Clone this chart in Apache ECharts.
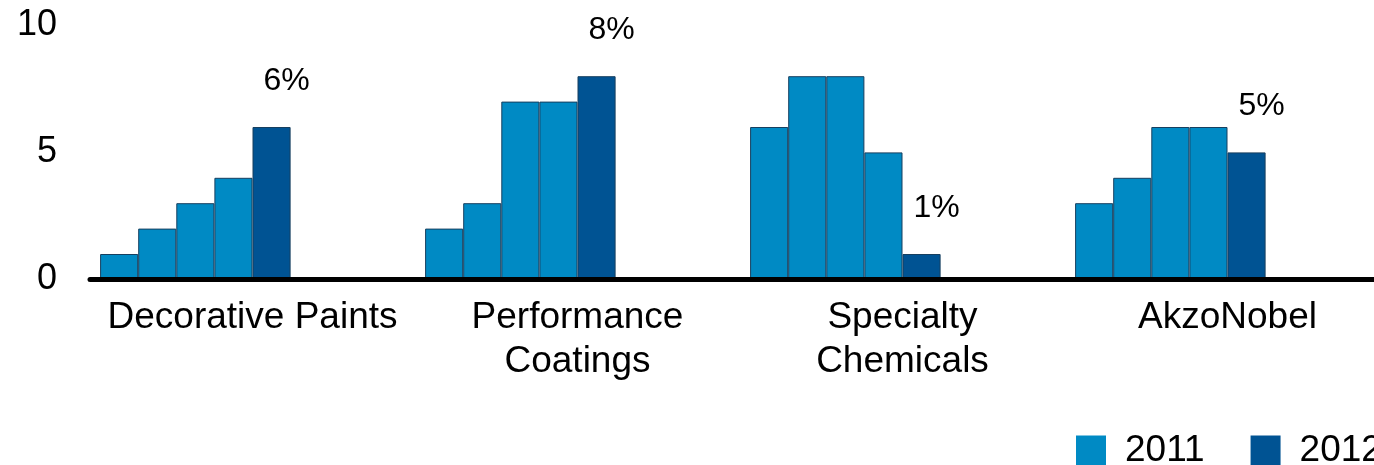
<!DOCTYPE html>
<html>
<head>
<meta charset="utf-8">
<script src="https://cdn.jsdelivr.net/npm/echarts@6/dist/echarts.min.js"></script>
<style>
  html, body { margin: 0; padding: 0; background: #fff; overflow: hidden; }
  #chart { width: 1390px; height: 465px; }
</style>
</head>
<body>
<div id="chart"></div>
<script>
// Segments on the x axis
var categories = ['Decorative Paints', 'Performance\nCoatings', 'Specialty\nChemicals', 'AkzoNobel'];

// Four 2011 bars per segment, then the 2012 bar
var bar2011a = [1, 2, 6, 3];
var bar2011b = [2, 3, 8, 4];
var bar2011c = [3, 7, 8, 6];
var bar2011d = [4, 7, 5, 6];
var bar2012 = [6, 8, 1, 5];

var yTicks = [0, 5, 10];

var color2011 = '#008AC4';
var color2012 = '#005393';
var font = '"Liberation Sans", Arial, sans-serif';

function barSeries(name, data, color) {
    return {
        name: name,
        type: 'bar',
        data: data,
        barWidth: 38.1,
        barGap: '0%',
        itemStyle: {
            color: color,
            borderColor: '#173f5f',
            borderWidth: 1
        }
    };
}

var series = [
    barSeries('2011', bar2011a, color2011),
    barSeries('2011', bar2011b, color2011),
    barSeries('2011', bar2011c, color2011),
    barSeries('2011', bar2011d, color2011),
    barSeries('2012', bar2012, color2012)
];

// percentage labels above the 2012 bars
series[4].label = {
    show: true,
    position: 'top',
    distance: 30,
    offset: [15, 0],
    formatter: '{c}%',
    color: '#000',
    fontSize: 32,
    fontFamily: font
};

// empty slot that keeps the bars pushed to the left of each segment
series.push({
    name: 'spacer',
    type: 'bar',
    data: categories.map(function () { return null; }),
    barWidth: 114.3,
    barGap: '0%',
    silent: true
});

var options = {
    animation: false,
    textStyle: { fontFamily: font },
    grid: {
        left: 90,
        top: 25.4,
        right: 0,
        height: 254
    },
    legend: {
        data: ['2011', '2012'],
        left: 1076,
        top: 432,
        padding: 0,
        icon: 'rect',
        itemWidth: 30,
        itemHeight: 30,
        itemGap: 46,
        itemStyle: { borderWidth: 0 },
        textStyle: { fontSize: 37, color: '#000', fontFamily: font, padding: [0, 0, 0, 14] }
    },
    xAxis: {
        type: 'category',
        data: categories,
        z: 5,
        axisLine: { lineStyle: { color: '#000', width: 5 } },
        axisTick: { show: false },
        axisLabel: {
            interval: 0,
            color: '#000',
            fontSize: 37,
            lineHeight: 44,
            margin: 16,
            fontFamily: font
        }
    },
    yAxis: {
        type: 'value',
        min: yTicks[0],
        max: yTicks[yTicks.length - 1],
        interval: yTicks[1] - yTicks[0],
        axisLine: { show: false },
        axisTick: { show: false },
        splitLine: { show: false },
        axisLabel: {
            color: '#000',
            fontSize: 36,
            margin: 33,
            padding: [6, 0, 0, 0],
            fontFamily: font
        }
    },
    series: series
};

var myChart = echarts.init(document.getElementById('chart'));
myChart.setOption(options);
</script>
</body>
</html>
